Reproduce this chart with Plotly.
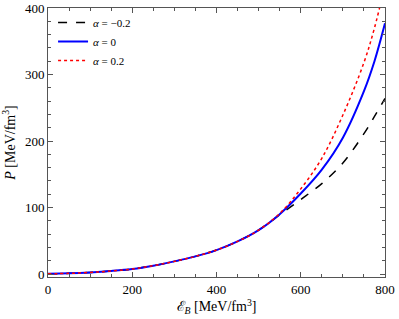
import plotly.graph_objects as go

# Shared low-density part (all curves coincide)
e_common = [0, 50, 100, 150, 200, 250, 300, 350, 400, 450, 500]
p_common = [0.3, 1.0, 2.4, 4.5, 7.5, 12.5, 19, 26.5, 36, 49, 66]

e_high = [550, 600, 650, 700, 750, 775, 800]
p_neg = [89, 112, 136, 167, 211, 237, 264]     # alpha = -0.2
p_zero = [90, 121, 157, 205, 275, 320, 377]    # alpha = 0
p_pos = [91, 128, 174, 239, 318, 370, 435]     # alpha = 0.2

labels = ["<i>α</i> = −0.2", "<i>α</i> = 0", "<i>α</i> = 0.2"]

x_all = e_common + e_high
fig = go.Figure()
fig.add_trace(go.Scatter(x=x_all, y=p_common + p_neg, mode="lines", name=labels[0],
                         line=dict(color="black", width=1.5, dash="dash", shape="spline")))
fig.add_trace(go.Scatter(x=x_all, y=p_common + p_zero, mode="lines", name=labels[1],
                         line=dict(color="#0000ff", width=2, shape="spline")))
fig.add_trace(go.Scatter(x=x_all, y=p_common + p_pos, mode="lines", name=labels[2],
                         line=dict(color="red", width=1.5, dash="dot", shape="spline")))

axis_common = dict(showgrid=False, zeroline=False, showline=True, linecolor="#555555", linewidth=1,
                   mirror="allticks", ticks="inside", ticklen=5, tickcolor="#555555",
                   automargin=False,
                   tickfont=dict(family="Liberation Serif", size=13, color="black"))

fig.update_xaxes(range=[0, 800], dtick=200, tick0=0,
                 minor=dict(dtick=50, ticks="inside", ticklen=3, tickcolor="#555555"),
                 title=dict(text="ℰ<sub><i>B</i></sub> [MeV/fm<sup>3</sup>]", standoff=4,
                            font=dict(family="Liberation Serif", size=14, color="black")),
                 **axis_common)
fig.update_yaxes(range=[-4.5, 400], dtick=100, tick0=0,
                 minor=dict(dtick=20, ticks="inside", ticklen=3, tickcolor="#555555"),
                 title=dict(text="<i>P</i> [MeV/fm<sup>3</sup>]", standoff=6,
                            font=dict(family="Liberation Serif", size=14, color="black")),
                 **axis_common)

fig.update_layout(width=399, height=319, margin=dict(l=48, r=14, t=8, b=42),
                  paper_bgcolor="white", plot_bgcolor="white",
                  legend=dict(x=0.015, y=1.0, xanchor="left", yanchor="top",
                              bgcolor="rgba(0,0,0,0)", tracegroupgap=0,
                              font=dict(family="Liberation Serif", size=11, color="black")),
                  showlegend=True)

fig.write_html("out.html", config={"displayModeBar": False},
               post_script="document.body.style.margin='0';")
